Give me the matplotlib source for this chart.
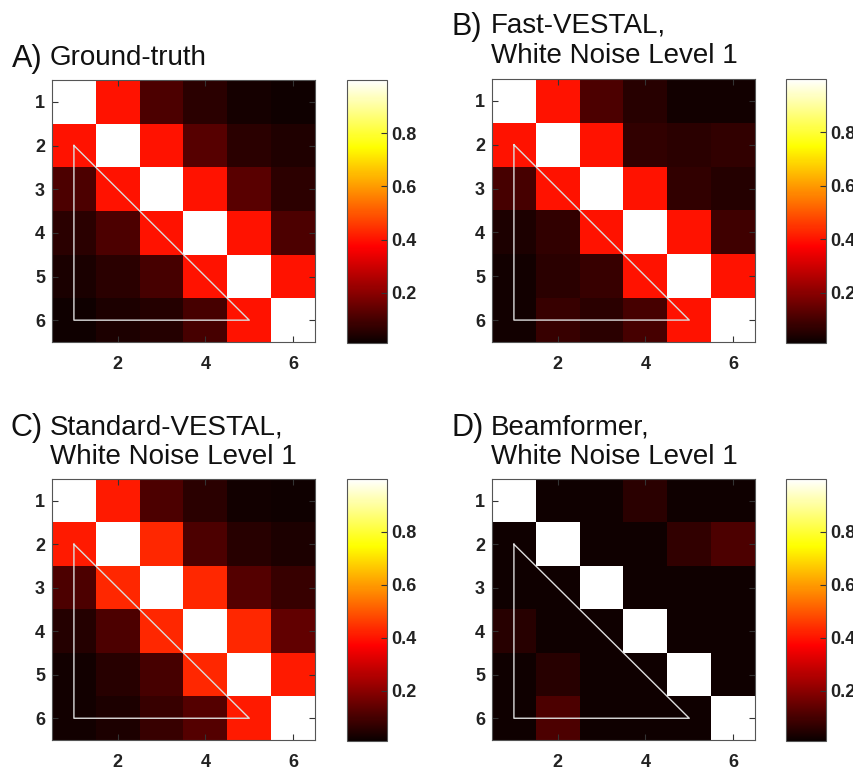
import numpy as np
import matplotlib
matplotlib.use("Agg")
import matplotlib.pyplot as plt

plt.rcParams['font.family'] = ['Liberation Sans', 'DejaVu Sans']

# correlation matrices (rows 1..6, cols 1..6)
ground_truth = [
    [1.00, 0.40, 0.11, 0.06, 0.03, 0.02],
    [0.40, 1.00, 0.40, 0.125, 0.06, 0.045],
    [0.11, 0.40, 1.00, 0.40, 0.13, 0.065],
    [0.06, 0.11, 0.40, 1.00, 0.40, 0.11],
    [0.035, 0.06, 0.10, 0.40, 1.00, 0.40],
    [0.02, 0.04, 0.05, 0.10, 0.40, 1.00],
]
fast_vestal = [
    [1.00, 0.40, 0.11, 0.055, 0.025, 0.025],
    [0.40, 1.00, 0.40, 0.07, 0.06, 0.07],
    [0.10, 0.40, 1.00, 0.40, 0.07, 0.05],
    [0.04, 0.07, 0.40, 1.00, 0.40, 0.09],
    [0.025, 0.06, 0.08, 0.40, 1.00, 0.40],
    [0.025, 0.08, 0.06, 0.10, 0.40, 1.00],
]
standard_vestal = [
    [1.00, 0.41, 0.11, 0.06, 0.025, 0.02],
    [0.41, 1.00, 0.43, 0.11, 0.055, 0.04],
    [0.11, 0.43, 1.00, 0.43, 0.12, 0.08],
    [0.05, 0.11, 0.43, 1.00, 0.43, 0.14],
    [0.025, 0.055, 0.10, 0.43, 1.00, 0.41],
    [0.025, 0.04, 0.08, 0.12, 0.41, 1.00],
]
beamformer = [
    [1.00, 0.02, 0.02, 0.06, 0.02, 0.02],
    [0.02, 1.00, 0.02, 0.02, 0.07, 0.11],
    [0.02, 0.02, 1.00, 0.02, 0.02, 0.02],
    [0.055, 0.02, 0.02, 1.00, 0.02, 0.02],
    [0.02, 0.055, 0.02, 0.02, 1.00, 0.02],
    [0.02, 0.11, 0.02, 0.02, 0.02, 1.00],
]

letras = ["A)", "B)", "C)", "D)"]
titulos = [["Ground-truth"],
           ["Fast-VESTAL,", "White Noise Level 1"],
           ["Standard-VESTAL,", "White Noise Level 1"],
           ["Beamformer,", "White Noise Level 1"]]
matrices = [ground_truth, fast_vestal, standard_vestal, beamformer]

tri_x = [1, 1, 5, 1]
tri_y = [2, 6, 6, 2]
cbar_ticks = [0.2, 0.4, 0.6, 0.8]

W, H = 854, 771
fig = plt.figure(figsize=(W / 100, H / 100), dpi=100)

# pixel layout: (axes left, axes top, axes bottom, cbar left, letter x, title x, first baseline)
paneles = [
    (52, 80, 342, 347, 12, 50, 65),
    (492, 79, 342, 786, 452, 491, 33),
    (52, 479, 740, 347, 10, 50, 434),
    (492, 479, 740, 786, 452, 491, 434),
]
ancho = 263
ancho_cb = 40
salto = 30

for i, (x0, top, bot, cbx, lx, tx, ty) in enumerate(paneles):
    ax = fig.add_axes([x0 / W, 1 - bot / H, ancho / W, (bot - top) / H])
    datos = np.array(matrices[i])
    im = ax.imshow(datos, cmap='hot', vmin=0.011, vmax=1.0,
                   interpolation='nearest', aspect='auto',
                   extent=(0.5, 6.5, 6.5, 0.5))
    ax.plot(tri_x, tri_y, color='#dddddd', lw=1.0)
    ax.set_xlim(0.5, 6.5)
    ax.set_ylim(6.5, 0.5)
    ax.set_xticks([2, 4, 6])
    ax.set_yticks([1, 2, 3, 4, 5, 6])
    ax.tick_params(direction='in', length=4, width=0.8, top=True, right=True,
                   labelsize=13, color='#333333')
    ax.tick_params(axis='x', pad=10)
    ax.tick_params(axis='y', pad=5)
    for lbl in ax.get_xticklabels() + ax.get_yticklabels():
        lbl.set_fontweight('bold')
        lbl.set_color('#222222')
    for s in ax.spines.values():
        s.set_color('#555555')
        s.set_linewidth(0.8)

    cax = fig.add_axes([cbx / W, 1 - (bot + 1) / H, ancho_cb / W, (bot + 1 - top) / H])
    cb = fig.colorbar(im, cax=cax, ticks=cbar_ticks)
    cb.ax.set_yticklabels(["0.2", "0.4", "0.6", "0.8"])
    cb.ax.tick_params(direction='in', length=4, width=0.8, labelsize=13,
                      pad=3, color='#333333')
    for lbl in cb.ax.get_yticklabels():
        lbl.set_fontweight('bold')
        lbl.set_color('#222222')
    cb.outline.set_edgecolor('#555555')
    cb.outline.set_linewidth(0.8)

    fig.text(lx / W, 1 - (ty + 2) / H, letras[i], fontsize=22, color='#111111',
             ha='left', va='baseline')
    for k, linea in enumerate(titulos[i]):
        fig.text(tx / W, 1 - (ty + k * salto) / H, linea, fontsize=20,
                 color='#111111', ha='left', va='baseline')

fig.savefig("out.png", dpi=100)
